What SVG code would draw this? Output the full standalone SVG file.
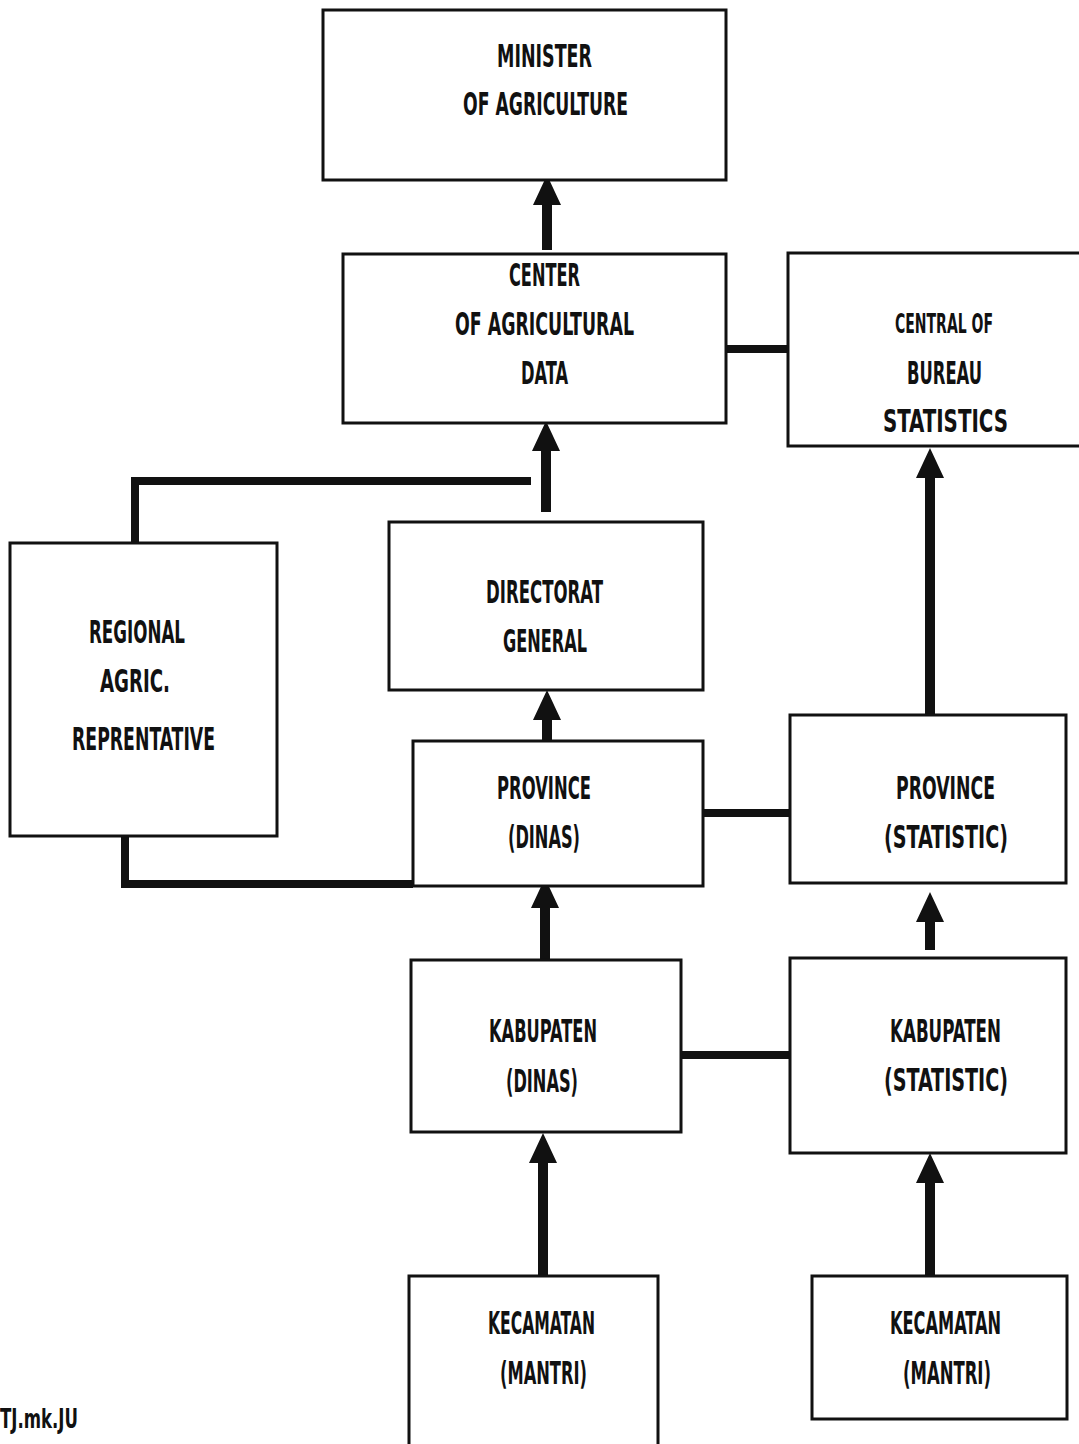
<svg xmlns="http://www.w3.org/2000/svg" width="1079" height="1444" viewBox="0 0 1079 1444">
<style>
  .box { fill: #fff; stroke: #111; stroke-width: 3; }
  .t { font-family: "Liberation Sans Narrow", "DejaVu Sans Condensed", "Liberation Sans", sans-serif; font-weight: bold; font-size: 32px; fill: #111; text-anchor: middle; }
  .s { font-size: 27px; }
  .c { fill: none; stroke: #111; stroke-width: 8; }
  .a { fill: none; stroke: #111; stroke-width: 10; marker-end: url(#head); }
</style>
<defs>
  <marker id="head" markerUnits="userSpaceOnUse" markerWidth="32" markerHeight="30" refX="0" refY="14" orient="auto" overflow="visible">
    <path d="M0,0 L30,14 L0,28 Z" fill="#111"/>
  </marker>
</defs>
<rect width="1079" height="1444" fill="#fff"/>

<g id="connectors">
  <line class="a" x1="547" y1="250" x2="547" y2="205"/>
  <line class="a" x1="546" y1="512" x2="546" y2="451"/>
  <line class="a" x1="547" y1="742" x2="547" y2="720"/>
  <line class="a" x1="930" y1="716" x2="930" y2="478"/>
  <line class="a" x1="545" y1="962" x2="545" y2="908"/>
  <line class="a" x1="930" y1="950" x2="930" y2="922"/>
  <line class="a" x1="543" y1="1277" x2="543" y2="1163"/>
  <line class="a" x1="930" y1="1277" x2="930" y2="1183"/>
  <line class="c" x1="725" y1="349" x2="788" y2="349"/>
  <polyline class="c" points="135,543 135,481 531,481"/>
  <polyline class="c" points="125,836 125,884 413,884"/>
  <line class="c" x1="703" y1="813" x2="790" y2="813"/>
  <line class="c" x1="680" y1="1055" x2="790" y2="1055"/>
</g>

<g id="minister">
  <rect class="box" x="323" y="10" width="403" height="170"/>
  <text class="t" x="544.5" y="67" textLength="95" lengthAdjust="spacingAndGlyphs">MINISTER</text>
  <text class="t" x="545.5" y="115" textLength="165" lengthAdjust="spacingAndGlyphs">OF AGRICULTURE</text>
</g>

<g id="center">
  <rect class="box" x="343" y="254" width="383" height="169"/>
  <text class="t" x="544.5" y="286" textLength="71" lengthAdjust="spacingAndGlyphs">CENTER</text>
  <text class="t" x="544.5" y="335" textLength="179" lengthAdjust="spacingAndGlyphs">OF AGRICULTURAL</text>
  <text class="t" x="544.5" y="384" textLength="47" lengthAdjust="spacingAndGlyphs">DATA</text>
</g>

<g id="bureau">
  <rect class="box" x="788" y="253" width="300" height="193"/>
  <text class="t s" x="944" y="333" textLength="98" lengthAdjust="spacingAndGlyphs">CENTRAL OF</text>
  <text class="t" x="944.5" y="384" textLength="75" lengthAdjust="spacingAndGlyphs">BUREAU</text>
  <text class="t" x="945.5" y="432" textLength="125" lengthAdjust="spacingAndGlyphs">STATISTICS</text>
</g>

<g id="regional">
  <rect class="box" x="10" y="543" width="267" height="293"/>
  <text class="t" x="137" y="643" textLength="96" lengthAdjust="spacingAndGlyphs">REGIONAL</text>
  <text class="t" x="135" y="692" textLength="70" lengthAdjust="spacingAndGlyphs">AGRIC.</text>
  <text class="t" x="143.5" y="750" textLength="143" lengthAdjust="spacingAndGlyphs">REPRENTATIVE</text>
</g>

<g id="directorat">
  <rect class="box" x="389" y="522" width="314" height="168"/>
  <text class="t" x="544.5" y="603" textLength="117" lengthAdjust="spacingAndGlyphs">DIRECTORAT</text>
  <text class="t" x="545" y="652" textLength="84" lengthAdjust="spacingAndGlyphs">GENERAL</text>
</g>

<g id="province-dinas">
  <rect class="box" x="413" y="741" width="290" height="145"/>
  <text class="t" x="544" y="799" textLength="94" lengthAdjust="spacingAndGlyphs">PROVINCE</text>
  <text class="t" x="544" y="848" textLength="72" lengthAdjust="spacingAndGlyphs">(DINAS)</text>
</g>

<g id="province-statistic">
  <rect class="box" x="790" y="715" width="276" height="168"/>
  <text class="t" x="945.5" y="799" textLength="99" lengthAdjust="spacingAndGlyphs">PROVINCE</text>
  <text class="t" x="946" y="848" textLength="124" lengthAdjust="spacingAndGlyphs">(STATISTIC)</text>
</g>

<g id="kabupaten-dinas">
  <rect class="box" x="411" y="960" width="270" height="172"/>
  <text class="t" x="543" y="1042" textLength="108" lengthAdjust="spacingAndGlyphs">KABUPATEN</text>
  <text class="t" x="542" y="1092" textLength="72" lengthAdjust="spacingAndGlyphs">(DINAS)</text>
</g>

<g id="kabupaten-statistic">
  <rect class="box" x="790" y="958" width="276" height="195"/>
  <text class="t" x="945.5" y="1042" textLength="111" lengthAdjust="spacingAndGlyphs">KABUPATEN</text>
  <text class="t" x="946" y="1091" textLength="124" lengthAdjust="spacingAndGlyphs">(STATISTIC)</text>
</g>

<g id="kecamatan-left">
  <rect class="box" x="409" y="1276" width="249" height="180"/>
  <text class="t" x="541.5" y="1334" textLength="107" lengthAdjust="spacingAndGlyphs">KECAMATAN</text>
  <text class="t" x="543.5" y="1384" textLength="87" lengthAdjust="spacingAndGlyphs">(MANTRI)</text>
</g>

<g id="kecamatan-right">
  <rect class="box" x="812" y="1276" width="255" height="143"/>
  <text class="t" x="945.5" y="1334" textLength="111" lengthAdjust="spacingAndGlyphs">KECAMATAN</text>
  <text class="t" x="947" y="1384" textLength="88" lengthAdjust="spacingAndGlyphs">(MANTRI)</text>
</g>

<text class="t s" x="39" y="1428" textLength="78" lengthAdjust="spacingAndGlyphs">TJ.mk.JU</text>
</svg>
